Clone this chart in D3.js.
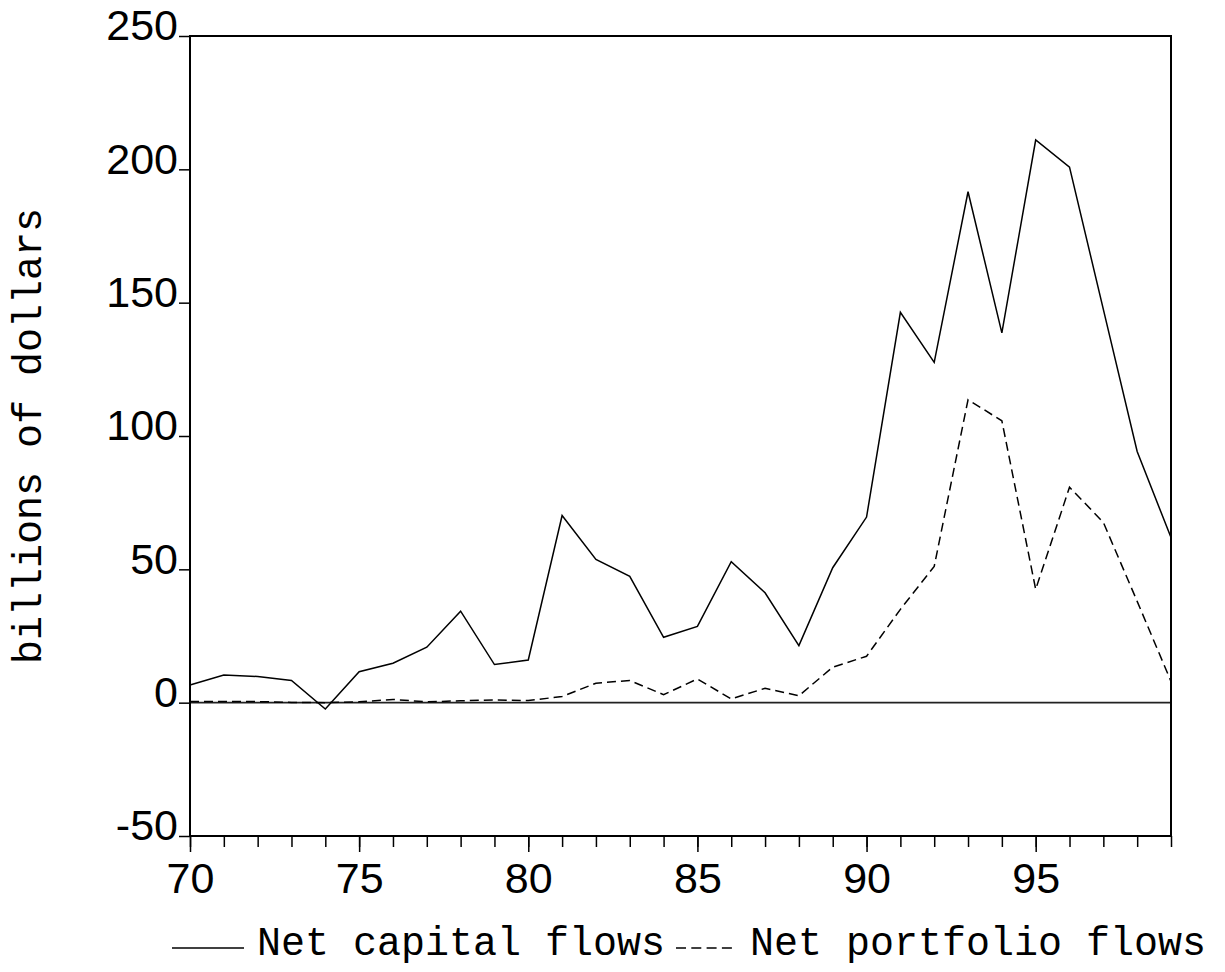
<!DOCTYPE html>
<html>
<head>
<meta charset="utf-8">
<script src="https://cdn.jsdelivr.net/npm/d3@7"></script>
<style>
  body { margin: 0; background: #fff; }
  svg { display: block; }
</style>
</head>
<body>
<script>
"use strict";

// years shown as two-digit labels, 1970-1999
const years = d3.range(70, 100);
const netCapital = [6.6, 10.4, 9.8, 8.3, -2.4, 11.6, 14.8, 20.8, 34.3, 14.3,
                    16.0, 70.2, 53.7, 47.4, 24.5, 28.6, 52.9, 41.2, 21.4, 50.6,
                    69.6, 146.4, 127.6, 191.6, 138.7, 211.0, 200.8, 147.5, 94.2, 61.9];
const netPortfolio = [0.4, 0.4, 0.4, 0.1, 0.0, 0.3, 1.2, 0.3, 0.7, 1.0,
                      0.8, 2.3, 7.3, 8.3, 3.0, 8.9, 1.4, 5.4, 2.6, 13.3,
                      17.4, 35.0, 51.1, 113.6, 105.7, 42.5, 80.8, 67.6, 38.0, 8.0];
const yTicks = [-50, 0, 50, 100, 150, 200, 250];
const xTicks = [70, 75, 80, 85, 90, 95];
const seriesNames = ["Net capital flows", "Net portfolio flows"];

const width = 1225, height = 972;
const margin = {left: 190, top: 36, right: 54, bottom: 136};

const svg = d3.select("body").append("svg")
    .attr("width", width)
    .attr("height", height);

let x = d3.scaleLinear().domain([70, 99]).range([margin.left, width - margin.right]);
let y = d3.scaleLinear().domain([-50, 250]).range([height - margin.bottom, margin.top]);

const numFont = "'Liberation Sans', Arial, sans-serif";
const monoFont = "'Courier New', Courier, 'Nimbus Mono PS', FreeMono, 'Liberation Mono', monospace";

// zero line
svg.append("line")
    .attr("x1", x(70)).attr("x2", x(99))
    .attr("y1", y(0)).attr("y2", y(0))
    .attr("stroke", "#222")
    .attr("stroke-width", 1.6);

// series
let line = d3.line()
    .x((d, i) => x(years[i]))
    .y(d => y(d));

svg.append("path")
    .datum(netPortfolio)
    .attr("d", line)
    .attr("fill", "none")
    .attr("stroke", "#000")
    .attr("stroke-width", 1.5)
    .attr("stroke-dasharray", "9,5");

svg.append("path")
    .datum(netCapital)
    .attr("d", line)
    .attr("fill", "none")
    .attr("stroke", "#000")
    .attr("stroke-width", 1.5);

// frame
svg.append("rect")
    .attr("x", x(70)).attr("y", y(250))
    .attr("width", x(99) - x(70))
    .attr("height", y(-50) - y(250))
    .attr("fill", "none")
    .attr("stroke", "#000")
    .attr("stroke-width", 2);

// y axis
let yAxis = svg.append("g")
    .attr("transform", `translate(${x(70)},0)`)
    .call(d3.axisLeft(y).tickValues(yTicks).tickSize(11).tickPadding(1).tickFormat(d => String(d)));
yAxis.select(".domain").remove();
yAxis.selectAll("line").attr("stroke", "#000").attr("stroke-width", 1.5);
yAxis.selectAll("text")
    .attr("font-family", numFont)
    .attr("font-size", 43)
    .attr("fill", "#000")
    .attr("dy", "0.09em");

// x axis: minor yearly ticks, labelled major ticks
let xMinor = svg.append("g")
    .attr("transform", `translate(0,${y(-50)})`)
    .call(d3.axisBottom(x).tickValues(years).tickSize(11).tickFormat(""));
xMinor.select(".domain").remove();
xMinor.selectAll("line").attr("stroke", "#000").attr("stroke-width", 1.5);

let xAxis = svg.append("g")
    .attr("transform", `translate(0,${y(-50)})`)
    .call(d3.axisBottom(x).tickValues(xTicks).tickSize(16).tickPadding(10).tickFormat(d => String(d)));
xAxis.select(".domain").remove();
xAxis.selectAll("line").attr("stroke", "#000").attr("stroke-width", 1.5);
xAxis.selectAll("text")
    .attr("font-family", numFont)
    .attr("font-size", 43)
    .attr("fill", "#000");

// y axis title
svg.append("text")
    .attr("transform", `translate(41,${(y(250) + y(-50)) / 2}) rotate(-90)`)
    .attr("text-anchor", "middle")
    .attr("font-family", monoFont)
    .attr("font-size", 40)
    .attr("fill", "#000")
    .text("billions of dollars");

// legend
const legendY = 948;
svg.append("line")
    .attr("x1", 172).attr("x2", 244)
    .attr("y1", legendY).attr("y2", legendY)
    .attr("stroke", "#000").attr("stroke-width", 1.5);
svg.append("text")
    .attr("x", 257).attr("y", 955)
    .attr("font-family", monoFont)
    .attr("font-size", 40)
    .attr("fill", "#000")
    .text(seriesNames[0]);
svg.append("line")
    .attr("x1", 676).attr("x2", 732)
    .attr("y1", legendY).attr("y2", legendY)
    .attr("stroke", "#000").attr("stroke-width", 1.5)
    .attr("stroke-dasharray", "10,5.3");
svg.append("text")
    .attr("x", 750).attr("y", 955)
    .attr("font-family", monoFont)
    .attr("font-size", 40)
    .attr("fill", "#000")
    .text(seriesNames[1]);
</script>
</body>
</html>
